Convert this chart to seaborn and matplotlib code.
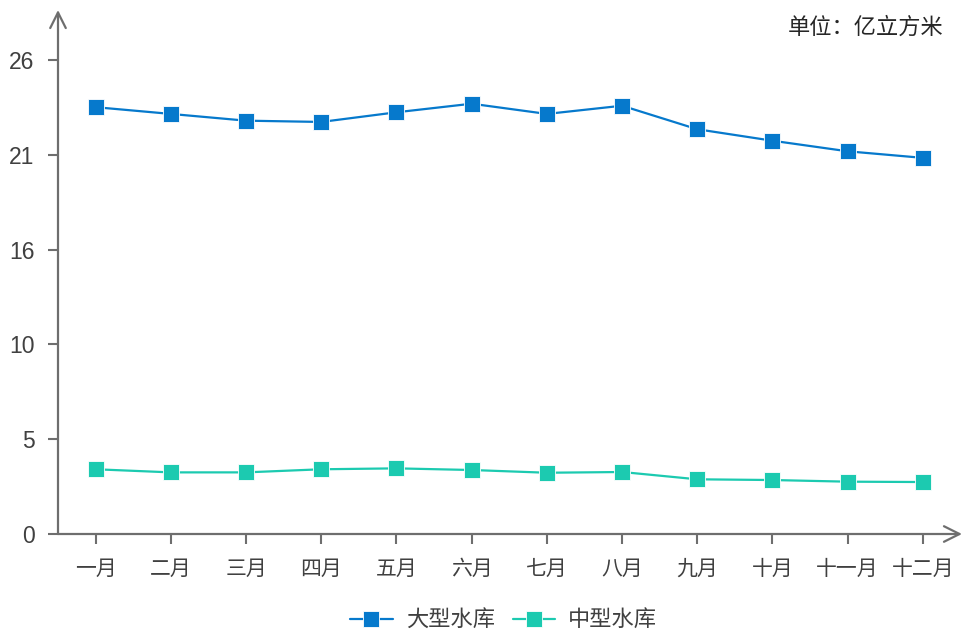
import matplotlib
matplotlib.use("Agg")
import matplotlib.pyplot as plt
import seaborn as sns
import pandas as pd

months = ["一月", "二月", "三月", "四月", "五月", "六月",
          "七月", "八月", "九月", "十月", "十一月", "十二月"]
large = [23.41, 23.04, 22.67, 22.60, 23.13, 23.60, 23.04, 23.49, 22.20, 21.57, 20.99, 20.63]
medium = [3.55, 3.38, 3.38, 3.55, 3.60, 3.51, 3.36, 3.40, 3.00, 2.96, 2.87, 2.85]
series_names = ["大型水库", "中型水库"]
y_ticks = [0, 5.2, 10.4, 15.6, 20.8, 26]
y_tick_labels = ["0", "5", "10", "16", "21", "26"]
unit_text = "单位：亿立方米"

sns.set_style("white")
plt.rcParams['font.family'] = ['Liberation Sans', 'Noto Sans CJK SC', 'DejaVu Sans']

df = pd.DataFrame({
    "x": list(range(len(months))) * 2,
    "value": large + medium,
    "series": [series_names[0]] * len(months) + [series_names[1]] * len(months),
})

colors = {series_names[0]: "#0679CC", series_names[1]: "#1CCAB0"}

fig = plt.figure(figsize=(9.65, 6.39), dpi=100)
ax = fig.add_axes([58/965, 1 - 534/639, (962 - 58)/965, (534 - 10)/639])

sns.lineplot(data=df, x="x", y="value", hue="series", palette=colors,
             style="series", markers={series_names[0]: "s", series_names[1]: "s"},
             dashes=False, markersize=11, linewidth=1.6, markeredgewidth=0.6,
             markeredgecolor="white", ax=ax, legend=True)

ax.set_xlim(-0.5, 11.52)
ax.set_ylim(0, 28.74)
ax.set_xticks(range(len(months)))
ax.set_xticklabels(months, fontsize=15, color="#404040",
                   family=['Noto Sans CJK SC', 'DejaVu Sans'])
ax.set_yticks(y_ticks)
ax.set_yticklabels(y_tick_labels, fontsize=16.5, color="#404040")
ax.set_xlabel("")
ax.set_ylabel("")

axis_color = "#6E6E6E"
for s in ["top", "right", "left", "bottom"]:
    ax.spines[s].set_visible(False)
ax.tick_params(axis="both", which="major", length=7, width=1.5, color=axis_color,
               direction="out", bottom=True, left=True)
ax.tick_params(axis="y", pad=10)
ax.tick_params(axis="x", pad=10)

ax.annotate("", xy=(0, 1.0), xytext=(0, 0), xycoords="axes fraction",
            arrowprops=dict(arrowstyle="->,head_length=0.7,head_width=0.35",
                            color=axis_color, lw=1.6, mutation_scale=16,
                            shrinkA=0, shrinkB=0), annotation_clip=False)
ax.annotate("", xy=(1.0, 0), xytext=(0, 0), xycoords="axes fraction",
            arrowprops=dict(arrowstyle="->,head_length=0.7,head_width=0.35",
                            color=axis_color, lw=1.6, mutation_scale=16,
                            shrinkA=0, shrinkB=0), annotation_clip=False)

handles, labels = ax.get_legend_handles_labels()
ax.get_legend().remove()
for h in handles:
    h.set_markersize(12)
leg = fig.legend(handles, labels, loc="center", bbox_to_anchor=(0.522, 0.03),
                 ncol=2, frameon=False, handlelength=1.9, columnspacing=0.8,
                 handletextpad=0.6,
                 prop={"family": ['Noto Sans CJK SC', 'DejaVu Sans'], "size": 16})
for t in leg.get_texts():
    t.set_color("#404040")

fig.text(944/965, 1 - 27/639, unit_text, ha="right", va="center", fontsize=16,
         color="#262626", family=['Noto Sans CJK SC', 'DejaVu Sans'])

fig.savefig("out.png", dpi=100)
